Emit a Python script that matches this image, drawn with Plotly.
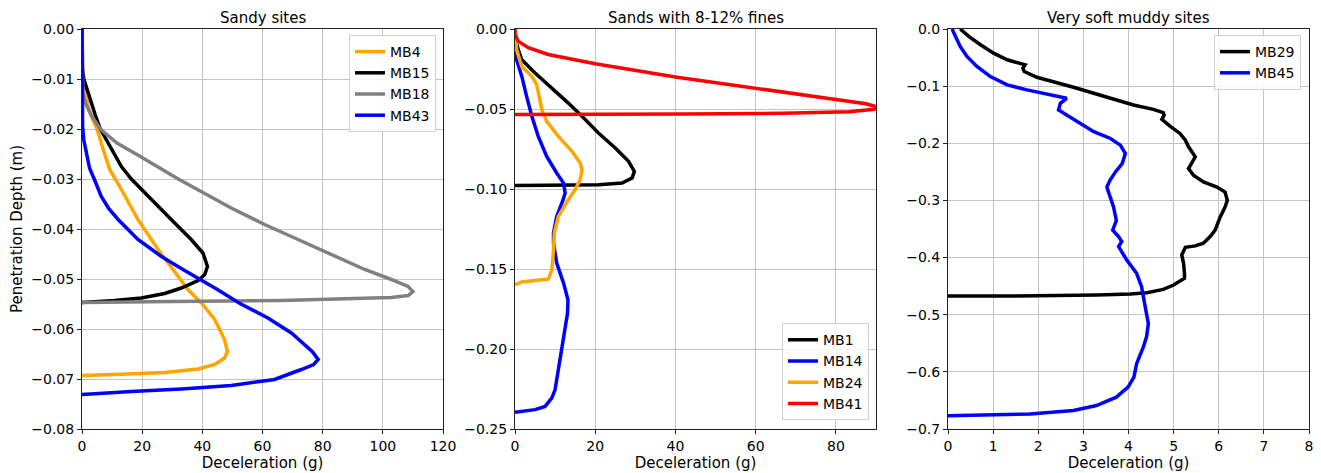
import plotly.graph_objects as go

# ---------------- Data ----------------
# Panel 1: Sandy sites
mb4_g = [0, 0.3, 1.0, 2.2, 3.5, 5.0, 7.0, 9.2, 13.1, 18.6, 25.3, 31.9, 35.2, 39.7, 44.1, 47.4, 48.3, 47.4, 44.1, 38.6, 27.5, 10.8, 0]
mb4_d = [0, -0.008, -0.012, -0.016, -0.018, -0.020, -0.024, -0.0281, -0.0321, -0.0381, -0.0441, -0.0495, -0.0521, -0.0548, -0.0581, -0.0621, -0.0645, -0.0658, -0.0671, -0.0680, -0.0687, -0.0691, -0.0693]

mb15_g = [0, 0.1, 0.6, 1.6, 2.8, 4.3, 6.1, 8.5, 10.5, 13.1, 16.4, 24.1, 30.8, 36.3, 40.2, 41.7, 40.8, 38.6, 33.0, 27.5, 19.7, 10.8, 0]
mb15_d = [0, -0.008, -0.010, -0.012, -0.0145, -0.017, -0.020, -0.0225, -0.0245, -0.0275, -0.030, -0.0348, -0.0388, -0.0421, -0.0448, -0.0475, -0.0491, -0.0503, -0.0518, -0.0529, -0.0538, -0.0543, -0.0547]

mb18_g = [0, 0.3, 1.1, 3.3, 6.1, 11.6, 19.4, 32.0, 49.6, 60.7, 71.8, 82.9, 94.0, 102.8, 108.4, 110.0, 108.4, 102.8, 88.4, 66.3, 30.0, 0]
mb18_d = [0, -0.0128, -0.0148, -0.0175, -0.020, -0.0228, -0.0255, -0.030, -0.0358, -0.0391, -0.0421, -0.0451, -0.0481, -0.0501, -0.0515, -0.0525, -0.0533, -0.0537, -0.0540, -0.0543, -0.0545, -0.0547]

mb43_g = [0, 0.2, 0.6, 1.4, 2.5, 4.4, 6.4, 9.0, 12.0, 18.6, 26.4, 33.0, 40.0, 45.0, 52.5, 61.8, 69.6, 72.9, 76.5, 78.5, 77.0, 72.9, 64.0, 49.6, 33.0, 16.4, 0]
mb43_d = [0, -0.0195, -0.0222, -0.0248, -0.0278, -0.0305, -0.0335, -0.036, -0.0381, -0.0421, -0.0455, -0.0479, -0.0503, -0.0521, -0.0549, -0.0578, -0.0608, -0.0625, -0.0645, -0.0661, -0.0671, -0.0681, -0.0701, -0.0713, -0.0720, -0.0725, -0.0731]

# Panel 2: Sands with 8-12% fines
mb1_g = [0, 0.3, 0.8, 1.7, 5.0, 9.2, 13.3, 16.7, 20.8, 25.0, 28.3, 29.75, 29.2, 26.7, 20.8, 8.3, 0]
mb1_d = [0, -0.008, -0.0129, -0.0192, -0.0275, -0.0369, -0.0463, -0.0546, -0.065, -0.0744, -0.0827, -0.089, -0.0931, -0.0963, -0.0973, -0.0977, -0.0978]

mb14_g = [0, 0.1, 0.4, 1.7, 2.9, 4.2, 5.8, 7.9, 10.4, 12.1, 12.5, 12.0, 10.4, 9.6, 9.6, 10.4, 12.1, 13.2, 13.1, 12.3, 11.7, 10.8, 10.0, 9.2, 7.5, 5.0, 1.7, 0]
mb14_d = [0, -0.012, -0.0192, -0.0296, -0.0421, -0.0546, -0.0671, -0.0796, -0.090, -0.0963, -0.1025, -0.1067, -0.1171, -0.1275, -0.1338, -0.1463, -0.1588, -0.1692, -0.1775, -0.190, -0.2004, -0.215, -0.2254, -0.2306, -0.2359, -0.2379, -0.239, -0.2396]

mb24_g = [0, 0.2, 0.4, 1.7, 4.2, 5.4, 6.0, 6.7, 7.9, 10.8, 14.2, 16.25, 16.7, 16.25, 15.0, 13.3, 10.8, 9.8, 9.6, 9.2, 8.3, 5.0, 1.7, 0]
mb24_d = [0, -0.008, -0.0129, -0.0234, -0.0296, -0.0348, -0.0421, -0.0504, -0.0577, -0.0671, -0.0765, -0.0838, -0.0879, -0.0942, -0.1004, -0.1067, -0.1171, -0.1275, -0.1379, -0.1504, -0.1563, -0.1573, -0.1581, -0.1598]

mb41_g = [0, 0, 0.8, 3.3, 8.3, 20.0, 40.0, 60.2, 80.2, 87.5, 90.5, 89.6, 83.3, 66.7, 41.7, 0]
mb41_d = [0, -0.0034, -0.0076, -0.0117, -0.0159, -0.0217, -0.030, -0.0373, -0.0446, -0.0467, -0.0488, -0.0502, -0.0517, -0.0527, -0.0531, -0.0534]

# Panel 3: Very soft muddy sites
mb29_g = [0.27, 0.46, 0.72, 1.01, 1.31, 1.60, 1.71, 1.66, 1.69, 1.97, 2.34, 2.78, 3.23, 3.67, 4.11, 4.55, 4.77, 4.79, 4.74, 4.92, 5.14, 5.26, 5.33, 5.48, 5.40, 5.33, 5.44, 5.66, 5.96, 6.14, 6.19, 6.14, 6.03, 5.92, 5.81, 5.66, 5.48, 5.26, 5.18, 5.22, 5.24, 5.24, 5.00, 4.77, 4.41, 4.04, 3.30, 2.19, 1.08, 0]
mb29_d = [0, -0.0129, -0.0275, -0.0422, -0.0539, -0.0609, -0.0627, -0.0685, -0.0744, -0.0844, -0.092, -0.1019, -0.1125, -0.123, -0.133, -0.1406, -0.1465, -0.1506, -0.1582, -0.1699, -0.1828, -0.1945, -0.2062, -0.2238, -0.2355, -0.2443, -0.256, -0.2677, -0.2765, -0.2853, -0.300, -0.3117, -0.3292, -0.3520, -0.3631, -0.3748, -0.3795, -0.3819, -0.3953, -0.410, -0.4275, -0.4363, -0.448, -0.4557, -0.4615, -0.4639, -0.4657, -0.4668, -0.4674, -0.4674]

mb45_g = [0.09, 0.16, 0.27, 0.42, 0.64, 0.94, 1.31, 1.75, 2.19, 2.49, 2.63, 2.49, 2.45, 2.63, 2.93, 3.23, 3.60, 3.82, 3.93, 3.86, 3.71, 3.59, 3.52, 3.59, 3.67, 3.73, 3.65, 3.78, 3.85, 3.78, 3.96, 4.18, 4.29, 4.37, 4.44, 4.40, 4.33, 4.18, 4.12, 3.99, 3.73, 3.29, 2.78, 1.82, 0.72, 0]
mb45_d = [0, -0.0129, -0.0305, -0.048, -0.0656, -0.0832, -0.0978, -0.1066, -0.1136, -0.1183, -0.1213, -0.130, -0.1418, -0.1506, -0.1652, -0.1798, -0.1916, -0.2033, -0.2179, -0.2355, -0.2501, -0.2648, -0.2765, -0.2941, -0.3117, -0.3351, -0.3520, -0.3631, -0.3719, -0.3807, -0.4041, -0.4275, -0.451, -0.4861, -0.5154, -0.5388, -0.5564, -0.5857, -0.6091, -0.6267, -0.6443, -0.6589, -0.6677, -0.6736, -0.6754, -0.6766]

titles = ["Sandy sites", "Sands with 8-12% fines", "Very soft muddy sites"]
x_label = "Deceleration (g)"
y_label = "Penetration Depth (m)"

ORANGE = "#ffa500"
BLACK = "#000000"
GRAY = "#808080"
BLUE = "#0000ff"
RED = "#ff0000"

fig = go.Figure()

def add(x, y, name, color, ax, legend):
    fig.add_trace(go.Scatter(x=x, y=y, name=name, mode="lines",
                             line=dict(color=color, width=3.5),
                             xaxis="x" + ("" if ax == 1 else str(ax)),
                             yaxis="y" + ("" if ax == 1 else str(ax)),
                             legend=legend))

add(mb4_g, mb4_d, "MB4", ORANGE, 1, "legend")
add(mb15_g, mb15_d, "MB15", BLACK, 1, "legend")
add(mb18_g, mb18_d, "MB18", GRAY, 1, "legend")
add(mb43_g, mb43_d, "MB43", BLUE, 1, "legend")

add(mb1_g, mb1_d, "MB1", BLACK, 2, "legend2")
add(mb14_g, mb14_d, "MB14", BLUE, 2, "legend2")
add(mb24_g, mb24_d, "MB24", ORANGE, 2, "legend2")
add(mb41_g, mb41_d, "MB41", RED, 2, "legend2")

add(mb29_g, mb29_d, "MB29", BLACK, 3, "legend3")
add(mb45_g, mb45_d, "MB45", BLUE, 3, "legend3")

FONT = "DejaVu Sans"
tickfont = dict(family=FONT, size=14, color="#000")
titlefont = dict(family=FONT, size=15, color="#000")

# The page body has an 8px margin; work in page pixels and shift.
OFF = 8
W, H = 1321 - OFF, 473 - OFF
PL, PR, PT, PB = 82, 1309, 29, 429          # plot area in page pixels
L, R, T, B = PL - OFF, W - (PR - OFF), PT - OFF, H - (PB - OFF)
pw = PR - PL
def dom(a, b):
    return [(a - PL) / pw, (b - PL) / pw]

doms = [dom(82, 443), dom(515, 876), dom(948, 1309)]
xranges = [[0, 120], [0, 90], [0, 8]]
xdt = [20, 20, 1]
yranges = [[-0.08, 0], [-0.25, 0], [-0.7, 0]]
ydt = [0.01, 0.05, 0.1]
yfmt = [".2f", ".2f", ".1f"]

axcommon = dict(showgrid=True, gridcolor="#c4c4c4", gridwidth=1, showline=True,
                linecolor="#222", linewidth=1, mirror=True, ticks="outside",
                ticklen=4, tickcolor="#222", tickfont=tickfont, zeroline=False,
                automargin=False)

layout = dict(width=W, height=H, margin=dict(l=L, r=R, t=T, b=B, autoexpand=False),
              plot_bgcolor="white", paper_bgcolor="white", showlegend=True,
              font=dict(family=FONT, color="#000"))

for i in range(3):
    s = "" if i == 0 else str(i + 1)
    layout["xaxis" + s] = dict(axcommon, domain=doms[i], range=xranges[i], dtick=xdt[i],
                               tick0=0, anchor="y" + s,
                               title=dict(text=x_label, font=titlefont, standoff=4))
    ya = dict(axcommon, domain=[0, 1], range=yranges[i], dtick=ydt[i], tick0=0,
              tickformat=yfmt[i], anchor="x" + s)
    if i == 0:
        ya["title"] = dict(text=y_label, font=titlefont, standoff=6)
    layout["yaxis" + s] = ya

legcommon = dict(bgcolor="rgba(255,255,255,0.85)", bordercolor="#d0d0d0", borderwidth=1,
                 font=dict(family=FONT, size=14, color="#000"), itemwidth=30,
                 tracegroupgap=0)
layout["legend"] = dict(legcommon, x=dom(0, 436)[1], y=0.985, xanchor="right", yanchor="top")
layout["legend2"] = dict(legcommon, x=dom(0, 869)[1], y=0.022, xanchor="right", yanchor="bottom")
layout["legend3"] = dict(legcommon, x=dom(0, 1301)[1], y=0.985, xanchor="right", yanchor="top")

fig.update_layout(**layout)

for i in range(3):
    c = sum(doms[i]) / 2
    fig.add_annotation(text=titles[i], x=c, y=1, xref="paper", yref="paper",
                       xanchor="center", yanchor="bottom", yshift=0, showarrow=False,
                       font=dict(family=FONT, size=15, color="#000"))

fig.write_html("out.html")
